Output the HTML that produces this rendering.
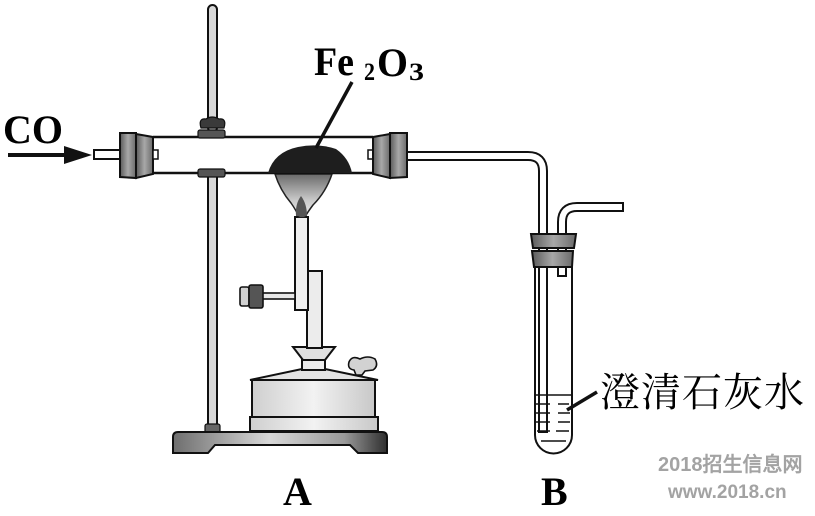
<!DOCTYPE html>
<html><head><meta charset="utf-8"><style>
html,body{margin:0;padding:0;background:#fff;}
svg{display:block;}
</style></head><body>
<svg width="815" height="516" viewBox="0 0 815 516" xmlns="http://www.w3.org/2000/svg">
<defs>
<linearGradient id="stop" x1="0" x2="1" y1="0" y2="0">
<stop offset="0" stop-color="#5a5a5a"/><stop offset="0.5" stop-color="#a8a8a8"/><stop offset="1" stop-color="#6a6a6a"/>
</linearGradient>
<linearGradient id="flame" x1="0" x2="0" y1="0" y2="1">
<stop offset="0" stop-color="#6a6a6a"/><stop offset="0.6" stop-color="#c8c8c8"/><stop offset="1" stop-color="#eeeeee"/>
</linearGradient>
<linearGradient id="body" x1="0" x2="1" y1="0" y2="0">
<stop offset="0" stop-color="#cfcfcf"/><stop offset="0.5" stop-color="#f2f2f2"/><stop offset="1" stop-color="#c8c8c8"/>
</linearGradient>
<linearGradient id="base" x1="0" x2="1" y1="0" y2="0">
<stop offset="0" stop-color="#6e6e6e"/><stop offset="0.45" stop-color="#d8d8d8"/><stop offset="0.8" stop-color="#9a9a9a"/><stop offset="1" stop-color="#2e2e2e"/>
</linearGradient>
</defs>

<!-- stand rod -->
<rect x="208" y="5" width="9" height="127" rx="4.5" fill="#d8d8d8" stroke="#111" stroke-width="2"/>
<rect x="208" y="176" width="9" height="252" fill="#d8d8d8" stroke="#111" stroke-width="2"/>
<rect x="205" y="424" width="15" height="9" rx="2" fill="#666" stroke="#111" stroke-width="1.2"/>

<!-- base -->
<path d="M173,437 Q173,432 178,432 L382,432 Q387,432 387,437 L387,453 L358,453 L350,445 L215,445 L208,453 L173,453 Z" fill="url(#base)" stroke="#111" stroke-width="2"/>

<!-- burner body -->
<rect x="250" y="417" width="128" height="14" fill="url(#body)" stroke="#111" stroke-width="2"/>
<rect x="252" y="380" width="123" height="37" fill="url(#body)" stroke="#111" stroke-width="2"/>
<path d="M250,380 L302,369 L325,369 L378,380 Z" fill="#e4e4e4" stroke="#111" stroke-width="2"/>
<path d="M349,362 Q352,355 360,359 Q368,355 375,359 Q379,366 373,370 L365,371 L362,375 L356,375 L354,370 Q347,369 349,362 Z" fill="#d2d2d2" stroke="#111" stroke-width="1.6"/>
<rect x="302" y="359" width="23" height="11" fill="#ececec" stroke="#111" stroke-width="2"/>
<path d="M293,347 L335,347 L325,360 L303,360 Z" fill="#e0e0e0" stroke="#111" stroke-width="2"/>
<rect x="307" y="271" width="15" height="77" fill="#ececec" stroke="#111" stroke-width="2"/>
<rect x="295" y="217" width="13" height="93" fill="#f0f0f0" stroke="#111" stroke-width="2"/>
<rect x="262" y="293" width="33" height="6" fill="#e8e8e8" stroke="#111" stroke-width="1.6"/>
<rect x="240" y="287" width="9" height="19" rx="2" fill="#d0d0d0" stroke="#111" stroke-width="1.6"/>
<rect x="249" y="285" width="14" height="23" rx="2" fill="#555" stroke="#111" stroke-width="1.6"/>

<!-- flame -->
<path d="M275,174 L332,174 Q326,192 313,205 Q307,213 305,217 L299,217 Q296,210 291,203 Q280,190 275,174 Z" fill="url(#flame)" stroke="#222" stroke-width="1.5"/>
<path d="M296,216 Q295,204 301,196 Q307,204 307,216 Z" fill="#555"/>

<!-- main tube -->
<line x1="153" y1="137" x2="373" y2="137" stroke="#111" stroke-width="2.5"/>
<line x1="153" y1="173" x2="373" y2="173" stroke="#111" stroke-width="2.5"/>
<!-- Fe2O3 pile -->
<path d="M268,173 Q274,152 298,147 Q318,143 336,149 Q349,158 352,173 Z" fill="#1e1e1e"/>

<!-- clamps -->
<path d="M201,128 Q198,118 206,119 Q212,115 219,119 Q227,118 224,128 Z" fill="#3a3a3a" stroke="#111" stroke-width="1.2"/>
<rect x="198" y="130" width="27" height="8" rx="2" fill="#555" stroke="#111" stroke-width="1.2"/>
<rect x="198" y="169" width="27" height="8" rx="2" fill="#555" stroke="#111" stroke-width="1.2"/>

<!-- inlet tube -->
<rect x="94" y="150" width="27" height="9" fill="#fff" stroke="#111" stroke-width="2"/>
<!-- left stopper -->
<path d="M120,133 L136,133 L136,178 L120,177 Z" fill="url(#stop)" stroke="#111" stroke-width="2"/>
<path d="M136,134 L153,137 L153,174 L136,178 Z" fill="url(#stop)" stroke="#111" stroke-width="2"/>
<rect x="153" y="150" width="5" height="9" fill="#fff" stroke="#111" stroke-width="1.5"/>

<!-- outlet long tube -->
<path d="M405,156 L528,156 Q543,156 543,171 L543,433" fill="none" stroke="#111" stroke-width="10"/>
<path d="M405,156 L528,156 Q543,156 543,171 L543,431" fill="none" stroke="#fff" stroke-width="6"/>

<!-- right stopper -->
<rect x="368" y="150" width="5" height="9" fill="#fff" stroke="#111" stroke-width="1.5"/>
<path d="M373,137 L390,134 L390,178 L373,174 Z" fill="url(#stop)" stroke="#111" stroke-width="2"/>
<path d="M390,133 L407,133 L407,177 L390,178 Z" fill="url(#stop)" stroke="#111" stroke-width="2"/>

<!-- test tube -->
<path d="M535,262 L535,435 A18.5,18.5 0 0 0 572,435 L572,262" fill="#fff" stroke="#111" stroke-width="2"/>
<path d="M543,262 L543,433" fill="none" stroke="#111" stroke-width="10"/>
<path d="M543,262 L543,431" fill="none" stroke="#fff" stroke-width="6"/>
<!-- liquid -->
<line x1="535" y1="395" x2="572" y2="395" stroke="#111" stroke-width="1.5"/>
<g stroke="#111" stroke-width="1.5">
<line x1="536" y1="404" x2="550" y2="404"/><line x1="558" y1="404" x2="569" y2="404"/>
<line x1="536" y1="413" x2="550" y2="413"/><line x1="558" y1="413" x2="570" y2="413"/>
<line x1="536" y1="422" x2="550" y2="422"/><line x1="558" y1="422" x2="570" y2="422"/>
<line x1="537" y1="431" x2="550" y2="431"/><line x1="556" y1="431" x2="569" y2="431"/>
<line x1="541" y1="441" x2="566" y2="441"/>
</g>

<!-- short tube -->
<path d="M562,277 L562,222 Q562,207 577,207 L624,207" fill="none" stroke="#111" stroke-width="10"/>
<path d="M562,275 L562,222 Q562,207 577,207 L622,207" fill="none" stroke="#fff" stroke-width="6"/>

<!-- stopper B -->
<path d="M531,234 L576,234 L574,248 L533,248 Z" fill="url(#stop)" stroke="#111" stroke-width="2"/>
<path d="M532,251 L573,251 L572,267 L534,267 Z" fill="url(#stop)" stroke="#111" stroke-width="2"/>

<!-- CO arrow -->
<line x1="8" y1="155" x2="70" y2="155" stroke="#111" stroke-width="4"/>
<polygon points="64,146 92,155 64,164" fill="#111"/>

<!-- label lines -->
<line x1="352" y1="82" x2="316" y2="148" stroke="#111" stroke-width="3.5"/>
<line x1="567" y1="410" x2="597" y2="392" stroke="#111" stroke-width="3.5"/>

<!-- text -->
<g font-family="'Liberation Serif', serif" font-weight="bold" fill="#000">
<text x="3" y="143" font-size="40">CO</text>
<text x="314" y="75" font-size="40" textLength="40" lengthAdjust="spacingAndGlyphs">Fe</text>
<text x="364" y="80" font-size="25" textLength="11" lengthAdjust="spacingAndGlyphs">2</text>
<text x="377" y="76" font-size="40" textLength="31" lengthAdjust="spacingAndGlyphs">O</text>
<text x="409" y="80" font-size="25" textLength="15" lengthAdjust="spacingAndGlyphs">3</text>
<text x="283" y="505" font-size="40">A</text>
<text x="541" y="505" font-size="40">B</text>
</g>
<text x="600" y="406" font-size="40" letter-spacing="1" font-family="'Liberation Serif','Noto Serif CJK SC',serif" fill="#000">澄清石灰水</text>

<g font-family="'Liberation Sans','WenQuanYi Zen Hei',sans-serif" font-weight="bold" fill="#a3a3a3">
<text x="658" y="471" font-size="20">2018招生信息网</text>
<text x="668" y="498" font-size="19">www.2018.cn</text>
</g>
</svg>
</body></html>
